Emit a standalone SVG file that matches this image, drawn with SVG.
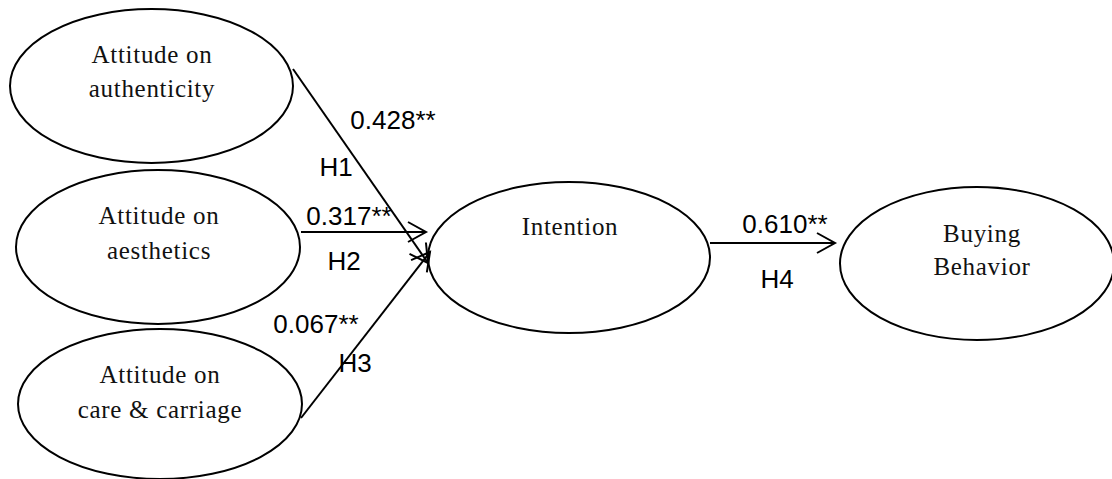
<svg xmlns="http://www.w3.org/2000/svg" width="1112" height="479" viewBox="0 0 1112 479">
<defs>
<style>
.node ellipse{fill:#fff;stroke:#000;stroke-width:2}
.lbl{font-family:"Liberation Serif",serif;font-size:25px;letter-spacing:0.7px;text-anchor:middle;fill:#111}
.num{font-family:"Liberation Sans",sans-serif;font-size:26px;text-anchor:middle;fill:#000}
.conn line{stroke:#000;stroke-width:2}
</style>
<marker id="arr" markerWidth="24" markerHeight="24" refX="20" refY="11" orient="auto" markerUnits="userSpaceOnUse">
<path d="M2,1 L20,11 L2,21" fill="none" stroke="#000" stroke-width="2"/>
</marker>
</defs>
<rect width="1112" height="479" fill="#fff"/>
<g id="n1" class="node"><ellipse cx="151.5" cy="86" rx="141.5" ry="77"/><text class="lbl" x="152" y="63">Attitude on</text><text class="lbl" x="152" y="97">authenticity</text></g>
<g id="n2" class="node"><ellipse cx="158" cy="247" rx="142" ry="77"/><text class="lbl" x="159" y="224">Attitude on</text><text class="lbl" x="159" y="259">aesthetics</text></g>
<g id="n3" class="node"><ellipse cx="160" cy="404" rx="142" ry="75"/><text class="lbl" x="160" y="383">Attitude on</text><text class="lbl" x="160" y="418">care &amp; carriage</text></g>
<g id="n4" class="node"><ellipse cx="569" cy="257.5" rx="141" ry="75.5"/><text class="lbl" x="570" y="235">Intention</text></g>
<g id="n5" class="node"><ellipse cx="977" cy="263.5" rx="137" ry="76.5"/><text class="lbl" x="982" y="242">Buying</text><text class="lbl" x="982" y="275">Behavior</text></g>
<g id="connectors" class="conn">
<line x1="293" y1="69" x2="428" y2="263" marker-end="url(#arr)"/>
<line x1="301" y1="232" x2="426" y2="232" marker-end="url(#arr)"/>
<line x1="301" y1="418" x2="430" y2="252" marker-end="url(#arr)"/>
<line x1="710" y1="243" x2="835" y2="243" marker-end="url(#arr)"/>
</g>
<g id="labels">
<text class="num" x="393" y="129">0.428**</text>
<text class="num" x="336" y="176">H1</text>
<text class="num" x="349" y="225">0.317**</text>
<text class="num" x="344" y="270">H2</text>
<text class="num" x="316" y="333">0.067**</text>
<text class="num" x="355" y="372">H3</text>
<text class="num" x="785" y="233">0.610**</text>
<text class="num" x="777" y="288">H4</text>
</g>
</svg>
